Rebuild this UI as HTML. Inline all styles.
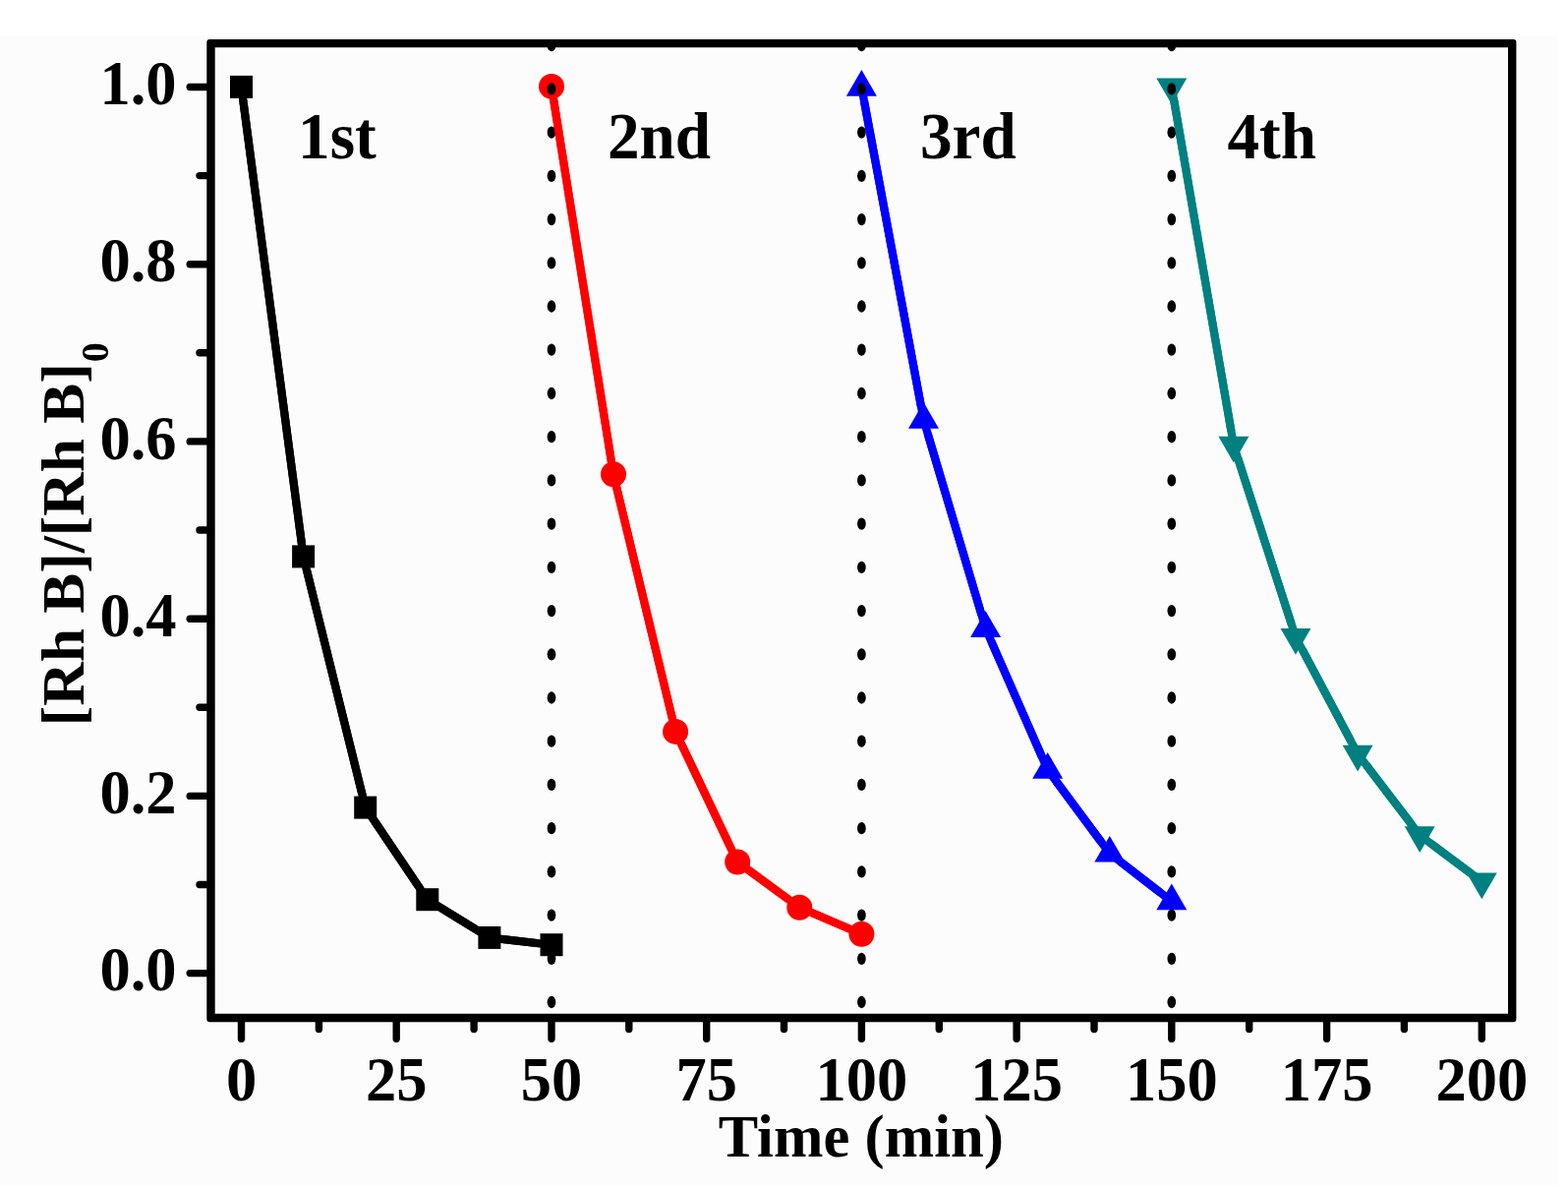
<!DOCTYPE html><html><head><meta charset="utf-8"><title>[Rh B]/[Rh B]0 vs Time</title><style>html,body{margin:0;padding:0;background:#fff;overflow:hidden;}svg{display:block;}text{font-family:"Liberation Serif","Times New Roman",serif;font-weight:bold;fill:#000;}</style></head><body>
<svg width="1595" height="1209" viewBox="0 0 1595 1209">
<rect x="0" y="0" width="1595" height="1209" fill="#fff"/>
<rect x="0" y="36" width="1585" height="1169" fill="#fcfcfc"/>
<polyline points="245.5,88.4 308.6,565.9 371.7,821.1 434.8,914.7 497.9,953.4 561.0,960.7" fill="none" stroke="#000" stroke-width="8.2" stroke-linejoin="round" stroke-linecap="butt"/>
<polyline points="561.0,87.9 624.0,482.3 687.1,743.9 750.2,876.5 813.3,922.8 876.4,949.7" fill="none" stroke="#f00" stroke-width="8.2" stroke-linejoin="round" stroke-linecap="butt"/>
<polyline points="876.4,88.8 939.5,426.9 1002.6,639.1 1065.7,782.8 1128.8,867.7 1191.8,916.4" fill="none" stroke="#00f" stroke-width="8.2" stroke-linejoin="round" stroke-linecap="butt"/>
<polyline points="1191.8,88.3 1254.9,452.7 1318.0,647.9 1381.1,766.6 1444.2,849.2 1507.3,896.4" fill="none" stroke="#008080" stroke-width="8.2" stroke-linejoin="round" stroke-linecap="butt"/>
<rect x="234.0" y="76.9" width="23.0" height="23.0" fill="#000"/>
<rect x="297.1" y="554.4" width="23.0" height="23.0" fill="#000"/>
<rect x="360.2" y="809.6" width="23.0" height="23.0" fill="#000"/>
<rect x="423.3" y="903.2" width="23.0" height="23.0" fill="#000"/>
<rect x="486.4" y="941.9" width="23.0" height="23.0" fill="#000"/>
<rect x="549.5" y="949.2" width="23.0" height="23.0" fill="#000"/>
<circle cx="561.0" cy="87.9" r="13.0" fill="#f00"/>
<circle cx="624.0" cy="482.3" r="13.0" fill="#f00"/>
<circle cx="687.1" cy="743.9" r="13.0" fill="#f00"/>
<circle cx="750.2" cy="876.5" r="13.0" fill="#f00"/>
<circle cx="813.3" cy="922.8" r="13.0" fill="#f00"/>
<circle cx="876.4" cy="949.7" r="13.0" fill="#f00"/>
<polygon points="876.4,71.0 891.9,97.7 860.9,97.7" fill="#00f"/>
<polygon points="939.5,409.1 955.0,435.8 924.0,435.8" fill="#00f"/>
<polygon points="1002.6,621.3 1018.1,648.0 987.1,648.0" fill="#00f"/>
<polygon points="1065.7,765.0 1081.2,791.7 1050.2,791.7" fill="#00f"/>
<polygon points="1128.8,849.9 1144.3,876.6 1113.3,876.6" fill="#00f"/>
<polygon points="1191.8,898.6 1207.3,925.3 1176.3,925.3" fill="#00f"/>
<polygon points="1191.8,106.1 1207.3,79.4 1176.3,79.4" fill="#008080"/>
<polygon points="1254.9,470.5 1270.4,443.8 1239.4,443.8" fill="#008080"/>
<polygon points="1318.0,665.7 1333.5,639.0 1302.5,639.0" fill="#008080"/>
<polygon points="1381.1,784.4 1396.6,757.7 1365.6,757.7" fill="#008080"/>
<polygon points="1444.2,867.0 1459.7,840.3 1428.7,840.3" fill="#008080"/>
<polygon points="1507.3,914.2 1522.8,887.5 1491.8,887.5" fill="#008080"/>
<ellipse cx="561.0" cy="46.2" rx="4.35" ry="6.15" fill="#000"/>
<ellipse cx="561.0" cy="90.4" rx="4.35" ry="6.15" fill="#000"/>
<ellipse cx="561.0" cy="134.6" rx="4.35" ry="6.15" fill="#000"/>
<ellipse cx="561.0" cy="178.9" rx="4.35" ry="6.15" fill="#000"/>
<ellipse cx="561.0" cy="223.1" rx="4.35" ry="6.15" fill="#000"/>
<ellipse cx="561.0" cy="267.3" rx="4.35" ry="6.15" fill="#000"/>
<ellipse cx="561.0" cy="311.5" rx="4.35" ry="6.15" fill="#000"/>
<ellipse cx="561.0" cy="355.7" rx="4.35" ry="6.15" fill="#000"/>
<ellipse cx="561.0" cy="400.0" rx="4.35" ry="6.15" fill="#000"/>
<ellipse cx="561.0" cy="444.2" rx="4.35" ry="6.15" fill="#000"/>
<ellipse cx="561.0" cy="488.4" rx="4.35" ry="6.15" fill="#000"/>
<ellipse cx="561.0" cy="532.6" rx="4.35" ry="6.15" fill="#000"/>
<ellipse cx="561.0" cy="576.8" rx="4.35" ry="6.15" fill="#000"/>
<ellipse cx="561.0" cy="621.1" rx="4.35" ry="6.15" fill="#000"/>
<ellipse cx="561.0" cy="665.3" rx="4.35" ry="6.15" fill="#000"/>
<ellipse cx="561.0" cy="709.5" rx="4.35" ry="6.15" fill="#000"/>
<ellipse cx="561.0" cy="753.7" rx="4.35" ry="6.15" fill="#000"/>
<ellipse cx="561.0" cy="797.9" rx="4.35" ry="6.15" fill="#000"/>
<ellipse cx="561.0" cy="842.2" rx="4.35" ry="6.15" fill="#000"/>
<ellipse cx="561.0" cy="886.4" rx="4.35" ry="6.15" fill="#000"/>
<ellipse cx="561.0" cy="930.6" rx="4.35" ry="6.15" fill="#000"/>
<ellipse cx="561.0" cy="974.8" rx="4.35" ry="6.15" fill="#000"/>
<ellipse cx="561.0" cy="1019.0" rx="4.35" ry="6.15" fill="#000"/>
<ellipse cx="876.4" cy="46.2" rx="4.35" ry="6.15" fill="#000"/>
<ellipse cx="876.4" cy="90.4" rx="4.35" ry="6.15" fill="#000"/>
<ellipse cx="876.4" cy="134.6" rx="4.35" ry="6.15" fill="#000"/>
<ellipse cx="876.4" cy="178.9" rx="4.35" ry="6.15" fill="#000"/>
<ellipse cx="876.4" cy="223.1" rx="4.35" ry="6.15" fill="#000"/>
<ellipse cx="876.4" cy="267.3" rx="4.35" ry="6.15" fill="#000"/>
<ellipse cx="876.4" cy="311.5" rx="4.35" ry="6.15" fill="#000"/>
<ellipse cx="876.4" cy="355.7" rx="4.35" ry="6.15" fill="#000"/>
<ellipse cx="876.4" cy="400.0" rx="4.35" ry="6.15" fill="#000"/>
<ellipse cx="876.4" cy="444.2" rx="4.35" ry="6.15" fill="#000"/>
<ellipse cx="876.4" cy="488.4" rx="4.35" ry="6.15" fill="#000"/>
<ellipse cx="876.4" cy="532.6" rx="4.35" ry="6.15" fill="#000"/>
<ellipse cx="876.4" cy="576.8" rx="4.35" ry="6.15" fill="#000"/>
<ellipse cx="876.4" cy="621.1" rx="4.35" ry="6.15" fill="#000"/>
<ellipse cx="876.4" cy="665.3" rx="4.35" ry="6.15" fill="#000"/>
<ellipse cx="876.4" cy="709.5" rx="4.35" ry="6.15" fill="#000"/>
<ellipse cx="876.4" cy="753.7" rx="4.35" ry="6.15" fill="#000"/>
<ellipse cx="876.4" cy="797.9" rx="4.35" ry="6.15" fill="#000"/>
<ellipse cx="876.4" cy="842.2" rx="4.35" ry="6.15" fill="#000"/>
<ellipse cx="876.4" cy="886.4" rx="4.35" ry="6.15" fill="#000"/>
<ellipse cx="876.4" cy="930.6" rx="4.35" ry="6.15" fill="#000"/>
<ellipse cx="876.4" cy="974.8" rx="4.35" ry="6.15" fill="#000"/>
<ellipse cx="876.4" cy="1019.0" rx="4.35" ry="6.15" fill="#000"/>
<ellipse cx="1191.8" cy="46.2" rx="4.35" ry="6.15" fill="#000"/>
<ellipse cx="1191.8" cy="90.4" rx="4.35" ry="6.15" fill="#000"/>
<ellipse cx="1191.8" cy="134.6" rx="4.35" ry="6.15" fill="#000"/>
<ellipse cx="1191.8" cy="178.9" rx="4.35" ry="6.15" fill="#000"/>
<ellipse cx="1191.8" cy="223.1" rx="4.35" ry="6.15" fill="#000"/>
<ellipse cx="1191.8" cy="267.3" rx="4.35" ry="6.15" fill="#000"/>
<ellipse cx="1191.8" cy="311.5" rx="4.35" ry="6.15" fill="#000"/>
<ellipse cx="1191.8" cy="355.7" rx="4.35" ry="6.15" fill="#000"/>
<ellipse cx="1191.8" cy="400.0" rx="4.35" ry="6.15" fill="#000"/>
<ellipse cx="1191.8" cy="444.2" rx="4.35" ry="6.15" fill="#000"/>
<ellipse cx="1191.8" cy="488.4" rx="4.35" ry="6.15" fill="#000"/>
<ellipse cx="1191.8" cy="532.6" rx="4.35" ry="6.15" fill="#000"/>
<ellipse cx="1191.8" cy="576.8" rx="4.35" ry="6.15" fill="#000"/>
<ellipse cx="1191.8" cy="621.1" rx="4.35" ry="6.15" fill="#000"/>
<ellipse cx="1191.8" cy="665.3" rx="4.35" ry="6.15" fill="#000"/>
<ellipse cx="1191.8" cy="709.5" rx="4.35" ry="6.15" fill="#000"/>
<ellipse cx="1191.8" cy="753.7" rx="4.35" ry="6.15" fill="#000"/>
<ellipse cx="1191.8" cy="797.9" rx="4.35" ry="6.15" fill="#000"/>
<ellipse cx="1191.8" cy="842.2" rx="4.35" ry="6.15" fill="#000"/>
<ellipse cx="1191.8" cy="886.4" rx="4.35" ry="6.15" fill="#000"/>
<ellipse cx="1191.8" cy="930.6" rx="4.35" ry="6.15" fill="#000"/>
<ellipse cx="1191.8" cy="974.8" rx="4.35" ry="6.15" fill="#000"/>
<ellipse cx="1191.8" cy="1019.0" rx="4.35" ry="6.15" fill="#000"/>
<defs><mask id="mk" maskUnits="userSpaceOnUse" x="0" y="0" width="1595" height="1209"><rect x="0" y="0" width="1595" height="1209" fill="#fff"/><rect x="233.0" y="75.9" width="25.0" height="25.0" fill="#000"/><rect x="296.1" y="553.4" width="25.0" height="25.0" fill="#000"/><rect x="359.2" y="808.6" width="25.0" height="25.0" fill="#000"/><rect x="422.3" y="902.2" width="25.0" height="25.0" fill="#000"/><rect x="485.4" y="940.9" width="25.0" height="25.0" fill="#000"/><rect x="548.5" y="948.2" width="25.0" height="25.0" fill="#000"/><circle cx="561.0" cy="87.9" r="14.0" fill="#000"/><circle cx="624.0" cy="482.3" r="14.0" fill="#000"/><circle cx="687.1" cy="743.9" r="14.0" fill="#000"/><circle cx="750.2" cy="876.5" r="14.0" fill="#000"/><circle cx="813.3" cy="922.8" r="14.0" fill="#000"/><circle cx="876.4" cy="949.7" r="14.0" fill="#000"/><circle cx="876.4" cy="88.8" r="15" fill="#000"/><circle cx="939.5" cy="426.9" r="15" fill="#000"/><circle cx="1002.6" cy="639.1" r="15" fill="#000"/><circle cx="1065.7" cy="782.8" r="15" fill="#000"/><circle cx="1128.8" cy="867.7" r="15" fill="#000"/><circle cx="1191.8" cy="916.4" r="15" fill="#000"/><circle cx="1191.8" cy="88.3" r="15" fill="#000"/><circle cx="1254.9" cy="452.7" r="15" fill="#000"/><circle cx="1318.0" cy="647.9" r="15" fill="#000"/><circle cx="1381.1" cy="766.6" r="15" fill="#000"/><circle cx="1444.2" cy="849.2" r="15" fill="#000"/><circle cx="1507.3" cy="896.4" r="15" fill="#000"/></mask></defs>
<g mask="url(#mk)">
<polyline points="245.5,88.4 308.6,565.9 371.7,821.1 434.8,914.7 497.9,953.4 561.0,960.7" fill="none" stroke="#000" stroke-width="8.2" stroke-linejoin="round" stroke-linecap="butt"/>
<polyline points="561.0,87.9 624.0,482.3 687.1,743.9 750.2,876.5 813.3,922.8 876.4,949.7" fill="none" stroke="#f00" stroke-width="8.2" stroke-linejoin="round" stroke-linecap="butt"/>
<polyline points="876.4,88.8 939.5,426.9 1002.6,639.1 1065.7,782.8 1128.8,867.7 1191.8,916.4" fill="none" stroke="#00f" stroke-width="8.2" stroke-linejoin="round" stroke-linecap="butt"/>
<polyline points="1191.8,88.3 1254.9,452.7 1318.0,647.9 1381.1,766.6 1444.2,849.2 1507.3,896.4" fill="none" stroke="#008080" stroke-width="8.2" stroke-linejoin="round" stroke-linecap="butt"/>
</g>
<path fill="#000" fill-rule="evenodd" d="M213.3,39.9H1539.4A3.0,3.0 0 0 1 1542.4,42.9V1036.2A3.0,3.0 0 0 1 1539.4,1039.2H213.3A3.0,3.0 0 0 1 210.3,1036.2V42.9A3.0,3.0 0 0 1 213.3,39.9Z M218.7,48.3V1030.8H1534.0V48.3Z"/>
<line x1="210.3" y1="989.6" x2="193.2" y2="989.6" stroke="#000" stroke-width="7.4" stroke-linecap="round"/>
<line x1="210.3" y1="899.5" x2="203.0" y2="899.5" stroke="#000" stroke-width="7.4" stroke-linecap="round"/>
<line x1="210.3" y1="809.4" x2="193.2" y2="809.4" stroke="#000" stroke-width="7.4" stroke-linecap="round"/>
<line x1="210.3" y1="719.3" x2="203.0" y2="719.3" stroke="#000" stroke-width="7.4" stroke-linecap="round"/>
<line x1="210.3" y1="629.2" x2="193.2" y2="629.2" stroke="#000" stroke-width="7.4" stroke-linecap="round"/>
<line x1="210.3" y1="539.0" x2="203.0" y2="539.0" stroke="#000" stroke-width="7.4" stroke-linecap="round"/>
<line x1="210.3" y1="448.9" x2="193.2" y2="448.9" stroke="#000" stroke-width="7.4" stroke-linecap="round"/>
<line x1="210.3" y1="358.8" x2="203.0" y2="358.8" stroke="#000" stroke-width="7.4" stroke-linecap="round"/>
<line x1="210.3" y1="268.7" x2="193.2" y2="268.7" stroke="#000" stroke-width="7.4" stroke-linecap="round"/>
<line x1="210.3" y1="178.6" x2="203.0" y2="178.6" stroke="#000" stroke-width="7.4" stroke-linecap="round"/>
<line x1="210.3" y1="88.5" x2="193.2" y2="88.5" stroke="#000" stroke-width="7.4" stroke-linecap="round"/>
<line x1="245.5" y1="1039.2" x2="245.5" y2="1056.3" stroke="#000" stroke-width="7.4" stroke-linecap="round"/>
<line x1="324.4" y1="1039.2" x2="324.4" y2="1046.5" stroke="#000" stroke-width="7.4" stroke-linecap="round"/>
<line x1="403.2" y1="1039.2" x2="403.2" y2="1056.3" stroke="#000" stroke-width="7.4" stroke-linecap="round"/>
<line x1="482.1" y1="1039.2" x2="482.1" y2="1046.5" stroke="#000" stroke-width="7.4" stroke-linecap="round"/>
<line x1="561.0" y1="1039.2" x2="561.0" y2="1056.3" stroke="#000" stroke-width="7.4" stroke-linecap="round"/>
<line x1="639.8" y1="1039.2" x2="639.8" y2="1046.5" stroke="#000" stroke-width="7.4" stroke-linecap="round"/>
<line x1="718.7" y1="1039.2" x2="718.7" y2="1056.3" stroke="#000" stroke-width="7.4" stroke-linecap="round"/>
<line x1="797.5" y1="1039.2" x2="797.5" y2="1046.5" stroke="#000" stroke-width="7.4" stroke-linecap="round"/>
<line x1="876.4" y1="1039.2" x2="876.4" y2="1056.3" stroke="#000" stroke-width="7.4" stroke-linecap="round"/>
<line x1="955.3" y1="1039.2" x2="955.3" y2="1046.5" stroke="#000" stroke-width="7.4" stroke-linecap="round"/>
<line x1="1034.1" y1="1039.2" x2="1034.1" y2="1056.3" stroke="#000" stroke-width="7.4" stroke-linecap="round"/>
<line x1="1113.0" y1="1039.2" x2="1113.0" y2="1046.5" stroke="#000" stroke-width="7.4" stroke-linecap="round"/>
<line x1="1191.8" y1="1039.2" x2="1191.8" y2="1056.3" stroke="#000" stroke-width="7.4" stroke-linecap="round"/>
<line x1="1270.7" y1="1039.2" x2="1270.7" y2="1046.5" stroke="#000" stroke-width="7.4" stroke-linecap="round"/>
<line x1="1349.6" y1="1039.2" x2="1349.6" y2="1056.3" stroke="#000" stroke-width="7.4" stroke-linecap="round"/>
<line x1="1428.4" y1="1039.2" x2="1428.4" y2="1046.5" stroke="#000" stroke-width="7.4" stroke-linecap="round"/>
<line x1="1507.3" y1="1039.2" x2="1507.3" y2="1056.3" stroke="#000" stroke-width="7.4" stroke-linecap="round"/>
<text transform="translate(179.6,1007.2) scale(1,1.01)" font-size="62.5" text-anchor="end">0.0</text>
<text transform="translate(179.6,827.0) scale(1,1.01)" font-size="62.5" text-anchor="end">0.2</text>
<text transform="translate(179.6,646.8) scale(1,1.01)" font-size="62.5" text-anchor="end">0.4</text>
<text transform="translate(179.6,466.5) scale(1,1.01)" font-size="62.5" text-anchor="end">0.6</text>
<text transform="translate(179.6,286.3) scale(1,1.01)" font-size="62.5" text-anchor="end">0.8</text>
<text transform="translate(179.6,106.1) scale(1,1.01)" font-size="62.5" text-anchor="end">1.0</text>
<text transform="translate(245.5,1118.8) scale(1,1.01)" font-size="62.5" text-anchor="middle">0</text>
<text transform="translate(403.2,1118.8) scale(1,1.01)" font-size="62.5" text-anchor="middle">25</text>
<text transform="translate(561.0,1118.8) scale(1,1.01)" font-size="62.5" text-anchor="middle">50</text>
<text transform="translate(718.7,1118.8) scale(1,1.01)" font-size="62.5" text-anchor="middle">75</text>
<text transform="translate(876.4,1118.8) scale(1,1.01)" font-size="62.5" text-anchor="middle">100</text>
<text transform="translate(1034.1,1118.8) scale(1,1.01)" font-size="62.5" text-anchor="middle">125</text>
<text transform="translate(1191.8,1118.8) scale(1,1.01)" font-size="62.5" text-anchor="middle">150</text>
<text transform="translate(1349.6,1118.8) scale(1,1.01)" font-size="62.5" text-anchor="middle">175</text>
<text transform="translate(1507.3,1118.8) scale(1,1.01)" font-size="62.5" text-anchor="middle">200</text>
<text transform="translate(730.8,1175.6) scale(1,1.025)" font-size="60.6">Time (min)</text>
<text transform="translate(84.8,738.2) rotate(-90)" font-size="61.5">[Rh B]/[Rh B]<tspan font-size="40" dx="1" dy="24.8">0</tspan></text>
<text transform="translate(303.1,161.0) scale(1,1.045)" font-size="65.2">1st</text>
<text transform="translate(617.9,161.0) scale(1,1.045)" font-size="65.2">2nd</text>
<text transform="translate(936.0,161.0) scale(1,1.045)" font-size="65.2">3rd</text>
<text transform="translate(1248.4,161.0) scale(1,1.045)" font-size="65.2">4th</text>
</svg></body></html>
